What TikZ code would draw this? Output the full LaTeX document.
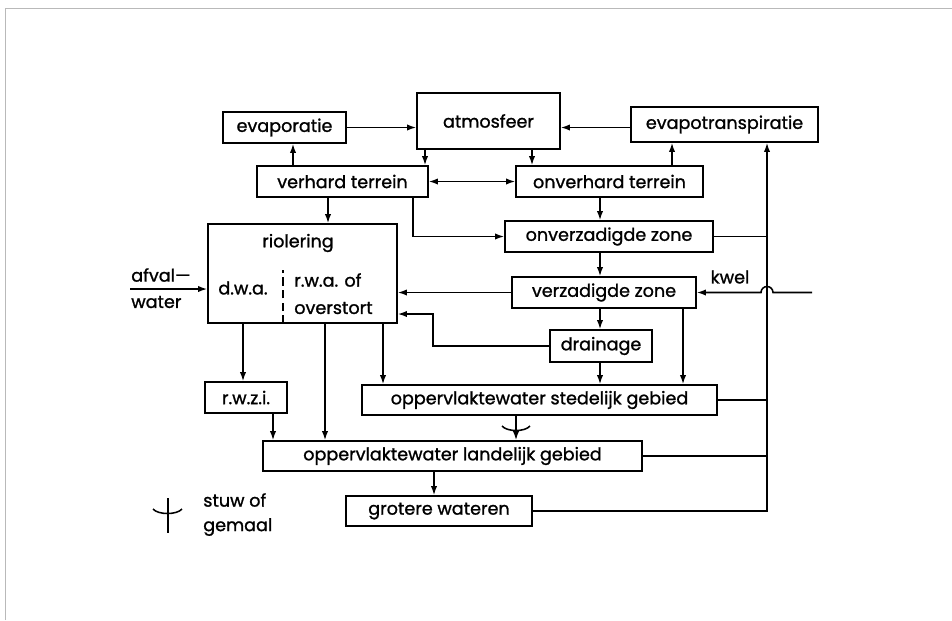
\documentclass[tikz,border=0pt]{standalone}
\usepackage{fontspec}
\setmainfont{Poppins}[FakeBold=1.2]
\usetikzlibrary{arrows.meta}
\usetikzlibrary{positioning}
\def\pix{0.025cm}

\begin{document}
\begin{tikzpicture}[x=0.025cm, y=-0.025cm,
  box/.style={draw, line width=1.1pt, inner sep=0pt, font=\fontsize{12.5}{14}\selectfont},
  size/.style 2 args={minimum width=#1*\pix, minimum height=#2*\pix},
  flow/.style={-{Latex[length=6.5pt,width=4.5pt]}, line width=1.1pt},
  conn/.style={line width=1.1pt},
  txt/.style={font=\fontsize{12.5}{14}\selectfont, inner sep=0pt}]

\useasboundingbox (0,0) rectangle (952,620);

% page edge
\draw[gray!55, line width=0.6pt] (5,620) -- (5,8) -- (952,8);

% boxes
\node[box, size={123}{31}] (evap) at (284.5,127.5) {evaporatie};
\node[box, size={143}{56}] (atmos) at (488.5,121) {atmosfeer};
\node[box, size={187}{35}] (evapotr) at (724.5,124.5) {evapotranspiratie};
\node[box, size={171}{31}] (verh) at (342.5,181.5) {verhard terrein};
\node[box, size={187}{31}] (onverh) at (609.5,181.5) {onverhard terrein};
\node[box, size={189}{99}] (riol) at (302.5,273.5) {};
\node[box, size={208}{31}] (onverz) at (609,236.5) {onverzadigde zone};
\node[box, size={184}{31}] (verz) at (604,292.5) {verzadigde zone};
\node[box, size={102}{32}] (drain) at (601,346) {drainage};
\node[box, size={82}{31}] (rwzi) at (246,397.5) {r.w.z.i.};
\node[box, size={355}{30}] (sted) at (539.5,400) {oppervlaktewater stedelijk gebied};
\node[box, size={379}{30}] (land) at (452.5,456) {oppervlaktewater landelijk gebied};
\node[box, size={186}{30}] (grot) at (439,511) {grotere wateren};

% riolering inside
\node[txt] (rioltitle) at (298,243) {riolering};
\node[txt] (dwa) at (243,288) {d.w.a.};
\node[txt, anchor=west] (rwa) at (294,280) {r.w.a. of};
\node[txt, anchor=west] (overst) at (294,308) {overstort};
\draw[conn, dash pattern=on 6pt off 3pt] (riol.south -| 283,0) -- (283,270);

% afvalwater
\coordinate (afval) at (130,289);
\node[txt, anchor=west] (afvaltop) at (131,275) {afval—};
\node[txt, anchor=west] (afvalbot) at (131,302) {water};
\draw[flow] (afval) -- (riol.west |- afval);

% upper flows
\draw[flow] (evap.east) -- (atmos.west |- evap.east);
\draw[flow] (evapotr.west |- evap.east) -- (atmos.east |- evap.east);
\draw[flow] (verh.north -| 293,0) -- (evap.south -| 293,0);
\draw[flow] (onverh.north -| 672,0) -- (evapotr.south -| 672,0);
\draw[flow] (atmos.south -| 425,0) -- (verh.north -| 425,0);
\draw[flow] (atmos.south -| 532,0) -- (onverh.north -| 532,0);
\draw[flow, {Latex[length=6.5pt,width=4.5pt]}-{Latex[length=6.5pt,width=4.5pt]}] (verh.east) -- (onverh.west);
\draw[flow] (verh.south -| 328,0) -- (riol.north -| 328,0);
\draw[flow] (verh.south -| 413,0) |- (onverz.west);

% soil column
\draw[flow] (onverh.south -| 600,0) -- (onverz.north -| 600,0);
\draw[flow] (onverz.south -| 600,0) -- (verz.north -| 600,0);
\draw[flow] (verz.south -| 600,0) -- (drain.north -| 600,0);
\draw[flow] (drain.south -| 600,0) -- (sted.north -| 600,0);
\draw[flow] (verz.south -| 683,0) -- (sted.north -| 683,0);
\draw[flow] (verz.west) -- (riol.east |- verz.west);
\draw[flow] (drain.west) -- (drain.west -| 433,0) |- (riol.east |- 0,314);

% kwel
\coordinate (kwelin) at (812,292.5);
\node[txt] (kwel) at (730,277) {kwel};
\draw[flow] (kwelin) -- (773,292.5) arc[start angle=0, end angle=-180, radius=6] -- (verz.east);

% sewer outflows
\draw[flow] (riol.south -| 243,0) -- (rwzi.north -| 243,0);
\draw[flow] (riol.south -| 325,0) -- (land.north -| 325,0);
\draw[flow] (riol.south -| 383,0) -- (sted.north -| 383,0);
\draw[flow] (rwzi.south -| 273,0) -- (land.north -| 273,0);

% surface water
\draw[flow] (sted.south -| 516,0) -- (land.north -| 516,0);
\draw[conn] (502,426) .. controls (507,432) and (525,432) .. (530,426);
\draw[flow] (land.south -| 434,0) -- (grot.north -| 434,0);

% return to evapotranspiratie
\draw[flow] (grot.east) -| (evapotr.south -| 767,0);
\draw[conn] (onverz.east) -- (onverz.east -| 767,0);
\draw[conn] (sted.east) -- (sted.east -| 767,0);
\draw[conn] (land.east) -- (land.east -| 767,0);

% legend
\draw[conn] (168,498) -- (168,533);
\draw[conn] (153,509) .. controls (158,515) and (177,515) .. (182,509);
\node[txt, anchor=west] (stuw) at (203,500) {stuw of};
\node[txt, anchor=west] (gemaal) at (203,527) {gemaal};

\end{tikzpicture}
\end{document}
